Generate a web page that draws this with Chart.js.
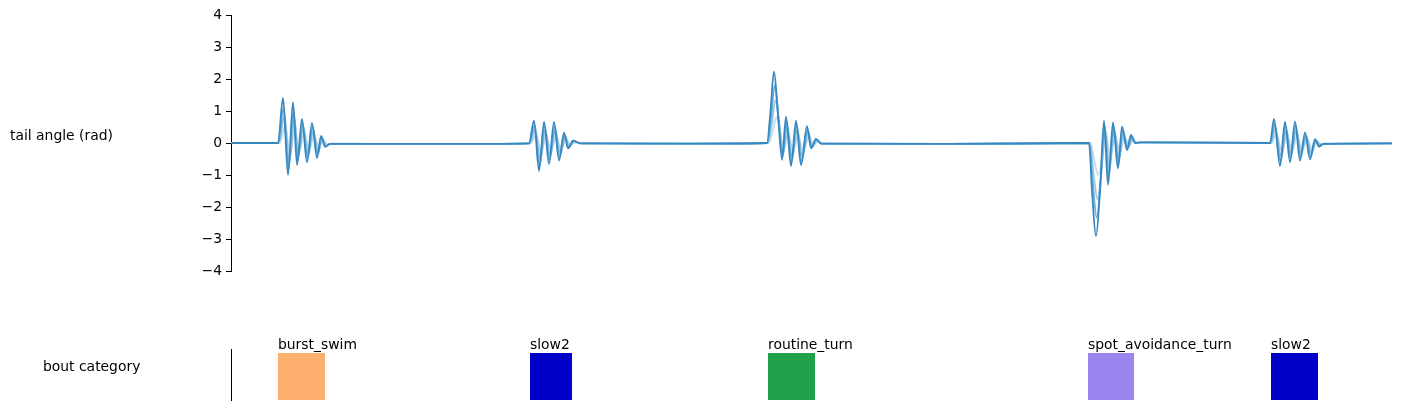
<!DOCTYPE html>
<html>
<head>
<meta charset="utf-8">
<script src="https://cdn.jsdelivr.net/npm/chart.js@4.4.1/dist/chart.umd.min.js"></script>
<style>
  body { margin: 0; background: #fff; font-family: "DejaVu Sans", sans-serif; }
  #wrap { position: relative; width: 1403px; height: 410px; }
  canvas { position: absolute; left: 0; }
  .lbl { position: absolute; font-size: 13.9px; color: #000; white-space: nowrap; }
</style>
</head>
<body>
<div id="wrap">
  <canvas id="tailChart" width="1403" height="290" style="top:0"></canvas>
  <canvas id="boutChart" width="1403" height="80" style="top:330px"></canvas>
  <div class="lbl" style="left:10px; top:127px">tail angle (rad)</div>
  <div class="lbl" style="left:43px; top:358px">bout category</div>
</div>
<script>
// key frames per segment (rostral segments lag a little behind the tail here)
const framesTail = [
  0, 47, 52, 57, 62, 66, 71, 76, 81, 86, 90, 94, 99, 200,
  298, 303, 308, 313, 318, 323, 328, 333, 337, 342, 349, 450,
  536, 539.5, 543, 547, 551, 555, 560, 565, 570, 576, 580, 585, 590, 720,
  858, 861, 865, 869, 873, 877, 882, 887, 891, 896, 900, 904, 910,
  1039, 1043, 1049, 1054, 1059, 1064, 1069, 1074, 1079, 1084, 1088, 1092, 1161
];
const framesMid2 = [
  0, 47.5, 52.7, 57.7, 62.7, 66.7, 71.7, 76.7, 81.7, 86.7, 90.7, 94.7, 99.5, 200,
  298.5, 303.7, 308.7, 313.7, 318.7, 323.7, 328.7, 333.7, 337.7, 342.7, 349.5, 450,
  536.5, 540.2, 543.7, 547.7, 551.7, 555.7, 560.7, 565.7, 570.7, 576.7, 580.7, 585.7, 590.5, 720,
  858.5, 861.7, 865.7, 869.7, 873.7, 877.7, 882.7, 887.7, 891.7, 896.7, 900.7, 904.7, 910.5,
  1039.5, 1043.7, 1049.7, 1054.7, 1059.7, 1064.7, 1069.7, 1074.7, 1079.7, 1084.7, 1088.7, 1092.5, 1161
];
const framesMid1 = [
  0, 48, 53.4, 58.4, 63.4, 67.4, 72.4, 77.4, 82.4, 87.4, 91.4, 95.4, 100, 200,
  299, 304.4, 309.4, 314.4, 319.4, 324.4, 329.4, 334.4, 338.4, 343.4, 350, 450,
  537, 540.9, 544.4, 548.4, 552.4, 556.4, 561.4, 566.4, 571.4, 577.4, 581.4, 586.4, 591, 720,
  859, 862.4, 866.4, 870.4, 874.4, 878.4, 883.4, 888.4, 892.4, 897.4, 901.4, 905.4, 911,
  1040, 1044.4, 1050.4, 1055.4, 1060.4, 1065.4, 1070.4, 1075.4, 1080.4, 1085.4, 1089.4, 1093, 1161
];
const framesHead = [
  0, 48.5, 54.2, 59.2, 64.2, 68.2, 73.2, 78.2, 83.2, 88.2, 92.2, 96.2, 101, 200,
  299.5, 305.2, 310.2, 315.2, 320.2, 325.2, 330.2, 335.2, 339.2, 344.2, 351, 450,
  537.5, 541.7, 545.2, 549.2, 553.2, 557.2, 562.2, 567.2, 572.2, 578.2, 582.2, 587.2, 592, 720,
  859.5, 863.2, 867.2, 871.2, 875.2, 879.2, 884.2, 889.2, 893.2, 898.2, 902.2, 906.2, 912,
  1040.5, 1045.2, 1051.2, 1056.2, 1061.2, 1066.2, 1071.2, 1076.2, 1081.2, 1086.2, 1090.2, 1094, 1161
];

// tail angle (rad), from caudal (largest) to rostral segments
const segTail = [
  0, 0, 1.41, -1.0, 1.28, -0.69, 0.75, -0.6, 0.63, -0.47, 0.22, -0.12, -0.03, -0.03,
  -0.01, 0.70, -0.87, 0.66, -0.66, 0.66, -0.55, 0.32, -0.17, 0.07, -0.01, -0.02,
  0, 1.0, 2.23, 0.9, -0.53, 0.82, -0.72, 0.69, -0.69, 0.53, -0.17, 0.13, -0.02, -0.03,
  0, -1.5, -2.91, -1.5, 0.70, -1.31, 0.64, -0.79, 0.51, -0.22, 0.25, 0, 0.02,
  0, 0.75, -0.72, 0.66, -0.6, 0.67, -0.55, 0.33, -0.51, 0.12, -0.11, -0.03, -0.01
];
const segMid2 = [
  0, 0, 1.12, -0.8, 1.02, -0.55, 0.6, -0.48, 0.5, -0.37, 0.18, -0.1, -0.03, -0.03,
  -0.01, 0.56, -0.7, 0.53, -0.53, 0.53, -0.44, 0.26, -0.14, 0.06, -0.01, -0.02,
  0, 0.8, 1.8, 0.72, -0.42, 0.66, -0.58, 0.55, -0.55, 0.42, -0.14, 0.1, -0.02, -0.03,
  0, -1.2, -2.33, -1.2, 0.56, -1.05, 0.51, -0.63, 0.41, -0.18, 0.2, 0, 0.02,
  0, 0.6, -0.58, 0.53, -0.48, 0.54, -0.44, 0.26, -0.41, 0.1, -0.09, -0.03, -0.01
];
const segMid1 = [
  0, 0, 0.85, -0.6, 0.77, -0.41, 0.45, -0.36, 0.38, -0.28, 0.13, -0.07, -0.02, -0.03,
  -0.01, 0.42, -0.52, 0.4, -0.4, 0.4, -0.33, 0.19, -0.1, 0.04, -0.01, -0.02,
  0, 0.6, 1.35, 0.54, -0.32, 0.49, -0.43, 0.41, -0.41, 0.32, -0.1, 0.08, -0.02, -0.03,
  0, -0.9, -1.75, -0.9, 0.42, -0.79, 0.38, -0.47, 0.31, -0.13, 0.15, 0, 0.02,
  0, 0.45, -0.43, 0.4, -0.36, 0.4, -0.33, 0.2, -0.31, 0.07, -0.07, -0.02, -0.01
];
const segHead = [
  0, 0, 0.5, -0.35, 0.45, -0.24, 0.26, -0.21, 0.22, -0.16, 0.08, -0.04, -0.02, -0.03,
  -0.01, 0.25, -0.3, 0.23, -0.23, 0.23, -0.19, 0.11, -0.06, 0.02, -0.01, -0.02,
  0, 0.35, 0.8, 0.32, -0.19, 0.29, -0.25, 0.24, -0.24, 0.19, -0.06, 0.05, -0.02, -0.03,
  0, -0.52, -1.0, -0.52, 0.25, -0.46, 0.22, -0.28, 0.18, -0.08, 0.09, 0, 0.02,
  0, 0.26, -0.25, 0.23, -0.21, 0.23, -0.19, 0.12, -0.18, 0.04, -0.04, -0.02, -0.01
];

const yTicks = [-4, -3, -2, -1, 0, 1, 2, 3, 4];

// bout classification
const boutNames  = ['burst_swim', 'slow2', 'routine_turn', 'spot_avoidance_turn', 'slow2'];
const boutStarts = [47, 299, 537, 857, 1040];
const boutEnds   = [94, 341, 584, 903, 1087];

const catColors = {
  burst_swim: '#fdb06d',
  slow2: '#0000c8',
  routine_turn: '#23a04a',
  spot_avoidance_turn: '#9b84ef'
};

const FRAME_MAX = 1161;
const font = { family: '"DejaVu Sans", sans-serif', size: 13.9 };

function pts(xs, ys) {
  return xs.map((f, i) => ({ x: f, y: ys[i] }));
}

const segs = [
  { x: framesTail, y: segTail, color: '#3787c0' },
  { x: framesMid2, y: segMid2, color: '#6aaed6' },
  { x: framesMid1, y: segMid1, color: '#9ecae1' },
  { x: framesHead, y: segHead, color: '#c6dbef' }
];

new Chart(document.getElementById('tailChart'), {
  type: 'line',
  data: {
    datasets: segs.map(s => ({
      data: pts(s.x, s.y),
      borderColor: s.color,
      borderWidth: 1.8,
      pointRadius: 0,
      cubicInterpolationMode: 'monotone',
      fill: false
    }))
  },
  options: {
    responsive: false,
    animation: false,
    layout: { padding: { left: 0, right: 11, top: 15, bottom: 19 } },
    plugins: { legend: { display: false }, tooltip: { enabled: false } },
    scales: {
      x: { type: 'linear', min: 0, max: FRAME_MAX, display: false },
      y: {
        min: -4, max: 4,
        afterFit: s => { s.width = 231; },
        afterBuildTicks: s => { s.ticks = yTicks.map(v => ({ value: v })); },
        ticks: {
          color: '#000', font: font, padding: 4,
          callback: v => String(v).replace('-', '\u2212')
        },
        grid: { drawOnChartArea: false, color: '#000', tickLength: 5 },
        border: { display: true, color: '#000', width: 1 }
      }
    }
  }
});

const boutLabels = {
  id: 'boutLabels',
  afterDatasetsDraw(chart) {
    const { ctx, scales: { x, y } } = chart;
    ctx.save();
    ctx.font = '13.9px "DejaVu Sans", sans-serif';
    ctx.fillStyle = '#000';
    ctx.textAlign = 'left';
    ctx.textBaseline = 'alphabetic';
    boutNames.forEach((n, i) => {
      ctx.fillText(n, x.getPixelForValue(boutStarts[i]), y.getPixelForValue(1) - 4);
    });
    ctx.restore();
  }
};

new Chart(document.getElementById('boutChart'), {
  type: 'line',
  data: {
    datasets: boutNames.map((n, i) => ({
      data: [{ x: boutStarts[i], y: 1 }, { x: boutEnds[i], y: 1 }],
      backgroundColor: catColors[n],
      borderWidth: 0,
      pointRadius: 0,
      fill: 'origin'
    }))
  },
  options: {
    responsive: false,
    animation: false,
    layout: { padding: { left: 0, right: 11, top: 19, bottom: 10 } },
    plugins: { legend: { display: false }, tooltip: { enabled: false } },
    scales: {
      x: { type: 'linear', min: 0, max: FRAME_MAX, display: false },
      y: {
        min: 0, max: 1.085,
        afterFit: s => { s.width = 231; },
        ticks: { display: false },
        grid: { drawOnChartArea: false, drawTicks: false },
        border: { display: true, color: '#000', width: 1 }
      }
    }
  },
  plugins: [boutLabels]
});
</script>
</body>
</html>
